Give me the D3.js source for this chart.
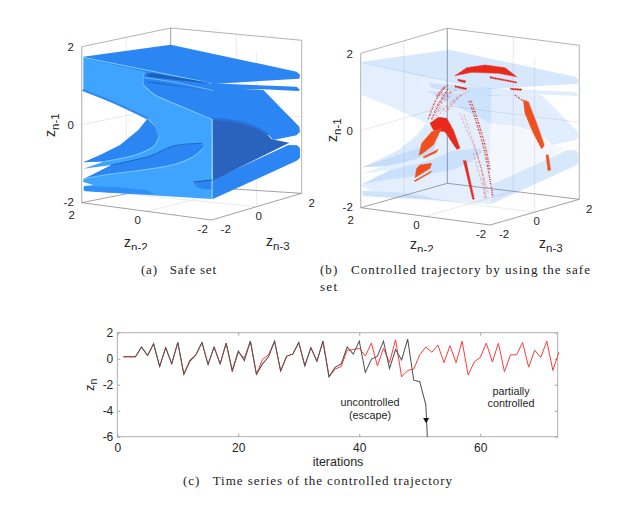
<!DOCTYPE html>
<html><head><meta charset="utf-8">
<script src="https://cdn.jsdelivr.net/npm/d3@7/dist/d3.min.js"></script>
<style>html,body{margin:0;padding:0;background:#fff}svg{display:block}
text{font-family:"Liberation Sans",Arial,sans-serif;fill:#262626}
.cap{font-family:"Liberation Serif",serif;font-size:13px;fill:#222}</style>
</head><body><svg id="c" width="640" height="510"></svg>
<script>
// ---------- time series (panel c) ----------
const uncontrolled = [.15,.15,.15,.9,.25,1.15,-.6,.85,-.4,1.25,-1.2,-.2,.3,1.25,-.45,.9,-.4,1.2,-.9,.6,-.15,1.35,-1.2,-.4,.15,1.35,-.95,.2,.35,1.25,-.55,.85,-.2,1.35,-1.4,-.67,-.4,.9,.35,1.35,-1.05,-.05,.2,1.35,-.75,.7,-.1,1.5,-1.65,-1.77,-3.55,-6];
const uncontrolledIter = [1,2,3,4,5,6,7,8,9,10,11,12,13,14,15,16,17,18,19,20,21,22,23,24,25,26,27,28,29,30,31,32,33,34,35,36,37,38,39,40,41,42,43,44,45,46,47,48,49,50,51,51.25];
const controlled = [.15,.15,.15,.9,.25,1.15,-.6,.85,-.4,1.25,-1.2,-.1,.3,1.25,-.45,.9,-.4,1.2,-1,.5,.05,1.35,-1.2,-.05,.3,1.35,-.95,.2,.35,1.25,-.55,.85,-.2,1.35,-1.4,-.8,-.6,.65,.7,.8,.2,1.2,-.55,.8,-.3,1.45,-1.4,-.9,-.8,.3,.9,.5,1.05,-.3,1,-.3,1.35,-1.25,-.25,.1,1.2,-.25,1.2,-1,.3,.3,1.25,-.65,.65,.1,1.35,-.9,.5];
const xTicksC = [0,20,40,60];
const yTicksC = [2,0,-2,-4,-6];
const escapeArrow = [51.05,-4.7];

// ---------- 3D axes ----------
const ticks3d = [-2,0,2];

// ---------- safe-set outlines, traced in surface units ----------
const backUpper = [[322,168],[520,180],[670,180],[778,290],[780,305],[770,316],[700,330],[680,310],[640,288],[590,273],[518,266]];
const darkFace = [[517,268],[590,275],[640,290],[680,312],[695,328],[748,338],[518,452]];
const lowerPlate = [[517,450],[745,345],[772,346],[780,355],[780,383],[770,392],[517,508]];
const plateOne = [[130,80],[392,44],[770,125],[780,135],[778,146],[518,162],[330,128],[130,84]];
const plateTwo = [[330,145],[518,160],[770,170],[780,180],[775,183],[670,178],[518,183],[340,160]];
const underPlate = [[316,122],[518,160],[518,270],[430,232],[345,195],[310,165],[310,140]];
const frontUpper = [[130,82],[318,121],[311,135],[310,150],[310,165],[345,195],[430,232],[516,268],[516,507],[135,484],[130,478],[132,468],[160,465],[130,456],[130,448],[215,405],[130,416],[195,394],[130,397],[357,320],[345,288],[322,264],[220,216],[130,180]];
const innerTip = [[130,397],[180,375],[240,345],[295,300],[322,266],[345,288],[357,320],[342,348],[300,370],[240,386],[195,394]];
const innerMid = [[130,448],[215,405],[330,378],[400,348],[485,340],[493,352],[460,380],[400,405],[300,422],[200,435]];
const bottomSliver = [[132,468],[230,472],[318,480],[345,493],[220,488],[133,482]];
const notchBody = [[462,458],[515,450],[515,478],[490,478],[470,472]];
const ridgeTop = [[130,82],[515,160]];
const ridgeSecond = [[312,143],[400,156],[518,181]];
const ridgeCurve = [[310,165],[345,195],[430,232],[515,268]];
const ridgeTip = [[195,394],[240,386],[300,370],[342,348],[357,320]];
const ridgeMid = [[130,447],[200,434],[300,421],[400,404],[460,380],[492,352]];
const ridgeEdge = [[516,268],[516,507]];
const notchOne = [[316,135],[335,129],[518,160],[470,157],[330,141]];
const notchTwo = [[314,155],[335,155],[518,182],[440,172],[340,160]];
const creaseMid = [[215,405],[330,378],[400,348],[485,340]];
const creaseLow = [[462,456],[515,450]];
const shadeConcave = [[130,181],[220,217],[322,265]];
const shadeDark = [[518,268],[590,275],[640,290],[682,313]];

// ---------- controlled trajectory clouds, traced in cloud units ----------
const denseRed = [
 [[405,137],[440,113],[495,105],[555,113],[590,140],[535,130],[455,127]],
 [[413,148],[437,152],[435,158],[415,153]],
 [[405,167],[440,175],[438,179],[405,171]],
 [[510,140],[590,156],[590,159],[510,144]],
 [[570,175],[605,177],[605,181],[575,179]],
 [[330,280],[355,262],[380,265],[400,300],[420,355],[410,358],[375,305],[340,300]],
 [[430,392],[438,392],[463,508],[458,508]]
];
const denseOrange = [
 [[610,210],[625,215],[650,280],[673,345],[665,357],[640,310],[615,250]],
 [[678,375],[685,375],[692,420],[684,422]],
 [[297,375],[305,340],[335,305],[365,295],[355,315],[340,345],[305,372]],
 [[310,380],[355,358],[348,368],[312,384]],
 [[290,415],[300,405],[335,400],[330,415],[285,443]],
 [[283,452],[335,423],[332,428],[285,455]]
];
const sparseStrong = [
 [[447,212],[470,280],[490,350],[505,420],[518,500]],
 [[453,212],[476,280],[496,350],[510,420]],
 [[585,195],[608,212]],
 [[325,268],[345,215],[375,170]],
 [[335,268],[358,220],[385,175]],
 [[350,200],[365,180],[385,165]]
];
const sparseFaint = [
 [[345,270],[365,220],[395,180]],
 [[375,245],[400,215],[430,190]],
 [[385,240],[420,200],[445,185]],
 [[350,195],[380,190],[410,180]],
 [[340,232],[370,215],[395,195]],
 [[360,250],[385,225],[420,195]],
 [[330,250],[360,240],[385,235]],
 [[350,225],[375,200],[400,185]],
 [[420,250],[440,300],[470,370],[490,440],[497,505]],
 [[432,255],[455,320],[475,385],[505,490]],
 [[460,370],[480,440],[500,505]],
 [[470,368],[488,440],[492,505]]
];

const svg = d3.select("#c");
const line2 = d3.line();

// ---------- panel furniture ----------
function panel3d(cfg){
  const g = svg.append("g");
  const zS = d3.scaleLinear().domain([-2,2]);
  const P = (p,q,z)=>{
    const a=(2-p)/4,b=(q+2)/4;
    const f=k=>(1-a)*(1-b)*cfg.L[k]+a*(1-b)*cfg.F[k]+a*b*cfg.R[k]+(1-a)*b*cfg.B[k];
    const x=f(0),yb=f(1),h=(1-a)*(1-b)*cfg.hL+a*(1-b)*cfg.hF+a*b*cfg.hR+(1-a)*b*cfg.hB;
    return [x,zS.range([yb,yb-h])(z)];
  };
  const seg=(A,col,w)=>g.append("path").attr("d",line2(A)).attr("fill","none").attr("stroke",col).attr("stroke-width",w||.8);
  const G="#e4e4e4",E="#a0a0a0",F="#8a8a8a";
  seg([P(0,-2,-2),P(0,2,-2),P(0,2,2)],G);
  seg([P(2,0,-2),P(-2,0,-2),P(-2,0,2)],G);
  seg([P(2,0,-2),P(2,0,2)],G);
  seg([P(2,-2,0),P(2,2,0),P(-2,2,0)],G);
  seg([P(2,-2,2),P(2,2,2),P(-2,2,2),P(-2,2,-2)],E);
  seg([P(2,-2,-2),P(2,-2,2)],"#b4b4b4",1.1);
  seg([P(2,2,-2),P(2,2,2)],cfg.backCol,1);
  seg([P(2,2,-2),P(-2,2,-2)],F);
  seg([P(2,2,-2),P(2,-2,-2)],F);
  seg([P(2,-2,-2),P(-2,-2,-2),P(-2,2,-2)],F);
  const lab=(t,x,y)=>g.append("text").attr("x",x).attr("y",y).attr("text-anchor","middle").attr("font-size",11.5).text(t);
  ticks3d.forEach(t=>{
    const a=P(2,-2,t); lab(t,a[0]-11-(t<0?2:0),a[1]+(t<0?2.8:4.5));
    const b=P(t,-2,-2); lab(t,b[0]-10+(t>0?0:1),b[1]+(t===2?16:13));
    const c=P(-2,t,-2); lab(t,c[0]+(t===2?10:(t===0?2:14)),c[1]+(t===2?14:13));
  });
  const clipId="clip"+cfg.id;
  svg.append("clipPath").attr("id",clipId).append("rect").attr("x",cfg.L[0]-50).attr("y",0).attr("width",300).attr("height",cfg.clipY);
  const sub=(x,y,rot,s,clip)=>{
    const holder=g.append("g"); if(clip) holder.attr("clip-path",`url(#${clipId})`);
    const t=holder.append("text").attr("font-size",14).attr("transform",`translate(${x},${y}) rotate(${rot})`);
    t.append("tspan").text("z");
    t.append("tspan").attr("dy",3.5).attr("font-size",11.5).text(s);
  };
  sub(cfg.zLab[0],cfg.zLab[1],-90,"n-1",false);
  sub(cfg.xLab[0],cfg.xLab[1],0,"n-2",true);
  sub(cfg.yLab[0],cfg.yLab[1],0,"n-3",false);
}

panel3d({id:"a",L:[81.7,202.7],F:[211.7,220],R:[301.7,193.3],B:[170.7,185],hL:156,hF:156,hR:153,hB:157,backCol:"#a0a0a0",clipY:250,
  zLab:[55,137],xLab:[124,247],yLab:[266,246]});
panel3d({id:"b",L:[360.7,207.7],F:[490,225],R:[579.3,199.3],B:[447.3,183.3],hL:154.4,hF:154,hR:154,hB:155,backCol:"#8f9aa5",clipY:252,
  zLab:[337,142],xLab:[410,249],yLab:[539,248]});

// ---------- panel (a) solid ----------
const xA=d3.scaleLinear().domain([0,840]).range([40,320]);
const yA=d3.scaleLinear().domain([0,750]).range([30,280]);
const path=(X,Y)=>d3.line().x(d=>X(d[0])).y(d=>Y(d[1]));
const smooth=(X,Y)=>d3.line().x(d=>X(d[0])).y(d=>Y(d[1])).curve(d3.curveCatmullRom.alpha(.5));
const ga=svg.append("g").style("filter","blur(.45px)");
const LIGHT="#3fa4ff",MED="#2b85f2",DARK="#2a63bd",RIDGE="#86d3ff";
const fillA=(d,c)=>ga.append("path").attr("d",path(xA,yA)(d)+"Z").attr("fill",c);
const strokeA=(d,c,w)=>ga.append("path").attr("d",smooth(xA,yA)(d)).attr("fill","none").attr("stroke",c).attr("stroke-width",w).attr("stroke-linecap","round");
fillA(lowerPlate,MED);
fillA(backUpper,MED);
fillA(darkFace,DARK);
strokeA(shadeDark,"#2a70d4",2.5);
fillA(underPlate,MED);
fillA(frontUpper,LIGHT);
fillA(plateTwo,MED);
fillA(plateOne,MED);
fillA(innerTip,MED);
fillA(innerMid,MED);
fillA(bottomSliver,"#2f8ff6");
fillA(notchBody,MED);
strokeA(shadeConcave,MED,2);
strokeA(ridgeTop,RIDGE,.9);
strokeA(ridgeSecond,RIDGE,.7);
strokeA(ridgeCurve,RIDGE,.8);
strokeA(ridgeTip,RIDGE,.9);
strokeA(ridgeMid,RIDGE,.9);
strokeA(ridgeEdge,RIDGE,1);
fillA(notchOne,"#1d5fb8");
fillA(notchTwo,"#1d66c4");
strokeA(creaseMid,"#1f62b6",.9);
strokeA(creaseLow,"#1a5aa8",1.1);

// ---------- panel (b) translucent solid and clouds ----------
const xB=d3.scaleLinear().domain([0,840]).range([318.5,598.5]);
const yB=d3.scaleLinear().domain([0,750]).range([35,285]);
const gb=svg.append("g").style("filter","blur(.6px)");
const fillB=(d,c,o)=>gb.append("path").attr("d",path(xB,yB)(d)+"Z").attr("fill",c).attr("fill-opacity",o);
[[lowerPlate,.2],[backUpper,.15],[darkFace,.06],[underPlate,.12],[frontUpper,.14],[plateTwo,.16],[plateOne,.2],[innerTip,.18],[innerMid,.15],[bottomSliver,.12]].forEach(([d,o])=>fillB(d,"#3d8cf0",o));

const xC=d3.scaleLinear().domain([0,840]).range([320,600]);
const yC=d3.scaleLinear().domain([0,810]).range([30,300]);
const gc=svg.append("g").style("filter","blur(.4px)");
const blob=(d,c)=>gc.append("path").attr("d",path(xC,yC)(d)+"Z").attr("fill",c).attr("stroke",c).attr("stroke-width",1).attr("stroke-dasharray",".8 .9");
denseRed.forEach(d=>blob(d,"#e8291c"));
denseOrange.forEach(d=>blob(d,"#f0501f"));
sparseStrong.forEach(d=>gc.append("path").attr("d",smooth(xC,yC)(d)).attr("fill","none").attr("stroke","#d8322a").attr("stroke-width",1.5).attr("stroke-dasharray","1 .7 .6 1.4"));
sparseFaint.forEach(d=>gc.append("path").attr("d",smooth(xC,yC)(d)).attr("fill","none").attr("stroke","#df4a40").attr("stroke-width",1.1).attr("stroke-opacity",.7).attr("stroke-dasharray",".9 1.1 .5 1.9"));

// ---------- panel (c) ----------
const x=d3.scaleLinear().domain([0,72.8]).range([117.3,557.7]);
const y=d3.scaleLinear().domain([-6,2]).range([436.7,332.7]);
const gt=svg.append("g");
gt.append("rect").attr("x",x(0)).attr("y",y(2)).attr("width",x(72.8)-x(0)).attr("height",y(-6)-y(2)).attr("fill","none").attr("stroke","#a6a6a6").attr("stroke-width",.9);
const ax=gt.append("g").attr("transform",`translate(0,${y(-6)})`).call(d3.axisBottom(x).tickValues(xTicksC).tickSize(-3).tickPadding(7).tickFormat(d3.format("d")));
const ay=gt.append("g").attr("transform",`translate(${x(0)},0)`).call(d3.axisLeft(y).tickValues(yTicksC).tickSize(-3).tickPadding(4).tickFormat(d=>d));
const axTop=gt.append("g").attr("transform",`translate(0,${y(2)})`).call(d3.axisTop(x).tickValues(xTicksC).tickSize(-3).tickFormat(""));
const ayR=gt.append("g").attr("transform",`translate(${x(72.8)},0)`).call(d3.axisRight(y).tickValues(yTicksC).tickSize(-3).tickFormat(""));
[ax,ay,axTop,ayR].forEach(a=>{a.select(".domain").remove();a.selectAll("line").attr("stroke","#a6a6a6");a.selectAll("text").attr("font-size",12).attr("font-family",'"Liberation Sans"').attr("fill","#262626");});
const ln=(xs,ys,c,w)=>gt.append("path").datum(ys).attr("d",d3.line().x((d,i)=>x(xs[i])).y(d=>y(d))).attr("fill","none").attr("stroke",c).attr("stroke-width",w).style("filter","blur(.25px)");
ln(d3.range(1,controlled.length+1),controlled,"#ff3a3a",1);
ln(uncontrolledIter,uncontrolled,"#555555",1.05);
gt.append("path").attr("d",d3.symbol(d3.symbolTriangle,16)()).attr("transform",`translate(${x(escapeArrow[0])},${y(escapeArrow[1])}) rotate(180)`).attr("fill","#111");
const tx=(s,px,py,o={})=>svg.append("text").attr("x",px).attr("y",py).attr("text-anchor",o.a||"middle").attr("font-size",o.f||10).attr("fill",o.c||"#333").text(s);
tx("uncontrolled",370,406,{f:10.8});
tx("(escape)",370,419,{f:10.8});
tx("partially",511,395,{f:10.8,c:"#f03030"});
tx("controlled",511,407,{f:10.8,c:"#f03030"});
tx("iterations",338,466,{f:12.5});
const zn=gt.append("text").attr("transform","translate(94,391) rotate(-90)").attr("font-size",13);
zn.append("tspan").text("z");zn.append("tspan").attr("dy",3).attr("font-size",10.5).text("n");

// ---------- captions ----------
const cap=(s,px,py,w)=>svg.append("text").attr("class","cap").attr("x",px).attr("y",py).attr("textLength",w).attr("lengthAdjust","spacing").style("white-space","pre").text(s);
cap("(a)   Safe set",141,274,75);
cap("(b)   Controlled trajectory by using the safe",320,274,270);
cap("set",320,291,17);
cap("(c)   Time series of the controlled trajectory",183,485,269);
</script></body></html>
